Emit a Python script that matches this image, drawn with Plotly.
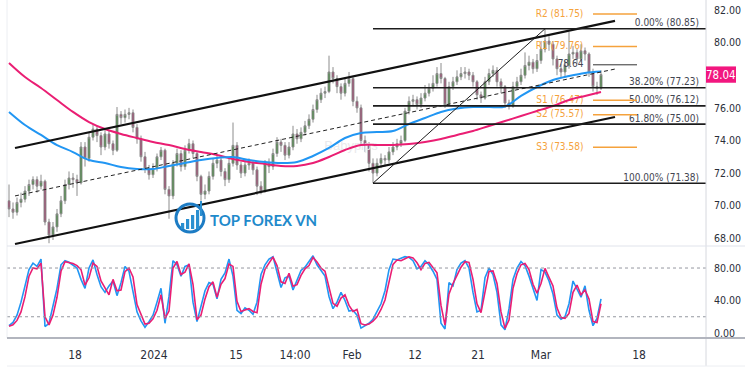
import plotly.graph_objects as go

# ---------------- data ----------------
opens = [70.3, 69.8, 69.6, 70.2, 70.4, 70.9, 71.3, 71.6, 71.2, 71.5,
         69.0, 68.2, 68.7, 69.5, 70.3, 71.3, 71.7, 71.6, 71.4, 73.6,
         72.9, 74.2, 74.7, 74.3, 73.6, 74.4, 73.8, 73.4, 75.6, 75.4,
         75.6, 75.7, 74.8, 74.1, 73.0, 72.3, 71.9, 72.3, 73.0, 73.4,
         71.0, 70.6, 72.6, 73.2, 72.4, 73.4, 73.8, 73.2, 71.8, 70.7,
         70.9, 71.8, 72.6, 72.8, 72.1, 71.6, 72.6, 73.7, 72.5, 72.0,
         72.5, 72.6, 72.2, 71.2, 70.9, 72.6, 72.4, 73.2, 73.9, 73.7,
         73.1, 73.6, 74.4, 74.1, 74.5, 74.9, 75.3, 75.9, 76.5, 76.9,
         77.0, 78.2, 77.8, 77.3, 76.9, 77.5, 77.8, 76.4, 76.0, 74.0,
         73.7, 72.6, 72.0, 72.6, 72.9, 72.8, 73.3, 73.6, 73.8, 74.0,
         75.8, 76.4, 76.5, 76.2, 76.6, 76.9, 77.2, 77.5, 78.1, 77.8,
         76.2, 77.3, 77.6, 77.9, 78.1, 78.2, 78.0, 77.6, 76.8, 76.6,
         77.6, 78.1, 78.3, 77.6, 77.3, 76.3, 76.1, 77.3, 77.6, 78.0,
         78.6, 78.8, 78.4, 78.9, 79.6, 80.1, 79.9, 79.0, 78.4, 78.2,
         78.6, 79.3, 79.4, 79.0, 79.5, 79.3, 78.2, 77.3, 77.2]
highs = [71.3, 70.2, 70.5, 70.8, 71.2, 71.6, 71.8, 71.8, 71.9, 71.6,
         69.2, 69.0, 69.8, 70.6, 71.6, 72.1, 72.0, 71.9, 73.9, 73.9,
         74.5, 75.0, 74.9, 74.5, 74.7, 74.6, 74.0, 76.05, 75.8, 75.9,
         76.0, 75.9, 75.0, 74.3, 73.3, 72.5, 72.6, 73.2, 73.6, 73.5,
         71.2, 72.8, 73.5, 73.4, 73.7, 74.1, 74.0, 73.3, 71.9, 71.3,
         72.1, 72.9, 73.1, 73.0, 72.3, 72.9, 75.1, 73.9, 72.7, 72.8,
         72.9, 72.8, 72.4, 71.5, 72.8, 72.9, 73.5, 74.2, 74.1, 73.9,
         73.9, 74.9, 74.7, 74.8, 75.2, 75.6, 76.2, 76.8, 77.2, 77.3,
         79.2, 78.5, 78.0, 77.5, 77.8, 78.2, 77.9, 76.7, 76.2, 74.3,
         73.9, 72.9, 72.9, 73.2, 73.1, 73.6, 73.9, 74.1, 74.3, 76.0,
         76.7, 76.8, 76.7, 76.9, 77.4, 77.5, 78.0, 78.5, 78.75, 77.9,
         77.6, 77.9, 78.3, 78.5, 78.5, 78.4, 78.2, 77.7, 77.0, 77.9,
         78.4, 78.6, 78.5, 77.8, 77.4, 76.5, 77.6, 77.9, 78.4, 79.4,
         79.2, 79.0, 79.3, 80.1, 80.85, 80.4, 80.1, 79.2, 78.7, 78.9,
         80.65, 79.8, 79.6, 79.9, 79.7, 79.4, 78.4, 77.6, 78.3]
lows = [69.3, 69.2, 69.4, 69.9, 70.2, 70.6, 71.0, 70.8, 71.0, 68.8,
        67.7, 67.9, 68.4, 69.3, 70.1, 71.0, 71.1, 70.6, 71.3, 72.4,
        72.7, 74.0, 73.9, 73.1, 73.4, 73.5, 73.1, 73.3, 75.0, 75.1,
        75.3, 74.5, 73.8, 72.7, 72.0, 71.6, 71.7, 72.1, 72.8, 70.7,
        69.2, 70.4, 72.4, 72.1, 72.2, 73.2, 72.9, 71.5, 70.3, 70.4,
        70.7, 71.6, 72.3, 71.8, 71.2, 71.4, 72.4, 72.2, 71.7, 71.8,
        72.2, 71.9, 70.65, 70.7, 70.8, 72.0, 72.2, 73.0, 73.3, 72.8,
        72.9, 73.4, 73.8, 73.9, 74.3, 74.7, 75.1, 75.7, 76.3, 76.6,
        76.9, 77.5, 76.9, 76.5, 76.7, 77.3, 76.1, 75.7, 73.7, 73.3,
        72.1, 71.38, 71.8, 72.3, 72.4, 72.6, 73.1, 73.4, 73.6, 73.9,
        75.6, 76.1, 75.9, 76.0, 76.4, 76.7, 77.0, 77.3, 77.5, 76.0,
        76.1, 77.1, 77.4, 77.7, 77.8, 77.7, 77.3, 76.5, 76.3, 76.5,
        77.4, 77.9, 77.3, 76.9, 76.0, 75.9, 76.0, 77.1, 77.4, 77.8,
        78.3, 78.1, 78.2, 78.7, 79.4, 79.5, 78.6, 78.0, 77.8, 77.9,
        78.4, 79.0, 78.7, 78.8, 78.9, 77.9, 77.0, 76.8, 77.1]
closes = [69.8, 69.6, 70.2, 70.4, 70.9, 71.3, 71.6, 71.2, 71.5, 69.0,
          68.2, 68.7, 69.5, 70.3, 71.3, 71.7, 71.6, 71.4, 73.6, 72.9,
          74.2, 74.7, 74.3, 73.6, 74.4, 73.8, 73.4, 75.6, 75.4, 75.6,
          75.7, 74.8, 74.1, 73.0, 72.3, 71.9, 72.3, 73.0, 73.4, 71.0,
          70.6, 72.6, 73.2, 72.4, 73.4, 73.8, 73.2, 71.8, 70.7, 70.9,
          71.8, 72.6, 72.8, 72.1, 71.6, 72.6, 73.7, 72.5, 72.0, 72.5,
          72.6, 72.2, 71.2, 70.9, 72.6, 72.4, 73.2, 73.9, 73.7, 73.1,
          73.6, 74.4, 74.1, 74.5, 74.9, 75.3, 75.9, 76.5, 76.9, 77.0,
          78.2, 77.8, 77.3, 76.9, 77.5, 77.8, 76.4, 76.0, 74.0, 73.7,
          72.6, 72.0, 72.6, 72.9, 72.8, 73.3, 73.6, 73.8, 74.0, 75.8,
          76.4, 76.5, 76.2, 76.6, 76.9, 77.2, 77.5, 78.1, 77.8, 76.2,
          77.3, 77.6, 77.9, 78.1, 78.2, 78.0, 77.6, 76.8, 76.6, 77.6,
          78.1, 78.3, 77.6, 77.3, 76.3, 76.1, 77.3, 77.6, 78.0, 78.6,
          78.8, 78.4, 78.9, 79.6, 80.1, 79.9, 79.0, 78.4, 78.2, 78.6,
          79.3, 79.4, 79.0, 79.5, 79.3, 78.2, 77.3, 77.2, 78.04]

# stochastic %K (blue) and %D (red), one value per bar
stoch_k = [9, 13, 22, 38, 58, 78, 86, 82, 91, 8,
           12, 32, 55, 84, 89, 87, 84, 80, 66, 55,
           80, 90, 72, 57, 50, 58, 64, 46, 62, 82,
           76, 52, 26, 15, 7, 14, 22, 38, 55, 12,
           45, 89, 84, 70, 82, 84, 38, 14, 32, 52,
           62, 60, 42, 66, 74, 91, 70, 28, 24, 31,
           28, 23, 38, 72, 84, 91, 94, 74, 56, 68,
           70, 53, 64, 77, 81, 88, 95, 84, 77, 70,
           45, 30, 38, 50, 40, 27, 28, 22, 6, 9,
           12, 17, 26, 36, 52, 78, 91, 90, 92, 94,
           93, 89, 79, 82, 89, 84, 76, 66, 12, 5,
           62, 58, 78, 86, 89, 80, 50, 26, 28, 68,
           80, 72, 50, 10, 4, 30, 66, 80, 88, 83,
           70, 55, 40, 78, 75, 64, 48, 22, 17, 20,
           36, 64, 54, 44, 58, 28, 9, 18, 42]
stoch_d = [8.3, 10, 15.5, 26, 44.7, 70, 80, 79, 86, 20,
           10, 22, 44, 76, 87.8, 86.5, 85.5, 83, 78, 59,
           68, 86, 82, 64, 55, 47, 66, 52, 53, 75.5,
           80, 69, 35, 23, 11, 12, 17.5, 28, 47, 18,
           27, 80, 88, 72, 75, 85, 60, 16.5, 22, 42,
           57, 63, 44, 60, 67, 85, 82, 39, 26.5, 28.3,
           30, 26.5, 25, 60, 78.5, 86, 93.5, 83, 63, 61,
           73.5, 57.5, 59.5, 71, 79, 83, 93, 87.5, 80, 76,
           57, 36.5, 33, 43, 47, 34, 26.5, 29, 11.5, 9.8,
           11, 14.5, 20, 29, 40.6, 62, 84.5, 89.8, 89, 91.5,
           93.7, 92.5, 86.5, 78, 85.7, 87, 80, 74, 34, 9.8,
           48, 61, 71, 81, 87.8, 87, 66, 36, 25, 52.9,
           75.8, 76.5, 61, 26, 5.7, 16, 55, 73, 84, 85.7,
           78, 60, 49, 61, 79.6, 68.5, 58, 31, 19, 18,
           24, 50, 59, 47, 52.9, 42, 14, 13, 36]

# moving averages, one value every 4 bars
ma_blue = [75.75, 74.95, 74.34, 73.72, 73.29, 72.80, 72.62, 72.37, 72.25, 72.25,
           72.44, 72.62, 72.80, 72.93, 72.99, 72.80, 72.68, 72.62, 72.68, 73.05,
           73.54, 74.15, 74.46, 74.52, 74.58, 75.01, 75.38, 75.75, 75.96, 76.05,
           76.05, 76.08, 76.73, 77.28, 77.71, 77.95, 78.14, 78.23]
ma_pink = [78.75, 77.89, 77.22, 76.48, 75.75, 75.13, 74.70, 74.40, 74.15, 73.91,
           73.72, 73.48, 73.29, 73.11, 72.86, 72.68, 72.56, 72.44, 72.44, 72.62,
           72.99, 73.42, 73.72, 73.72, 73.72, 73.78, 73.91, 74.09, 74.34, 74.58,
           74.89, 75.19, 75.50, 75.81, 76.11, 76.48, 76.73, 76.97]

tick_pos = [16.5, 36.25, 56.75, 71.5, 85.75, 101.5, 117.25, 133, 157.5]
tick_labels = ["18", "2024", "15", "14:00", "Feb", "12", "21", "Mar", "18"]

price_ticks = [68, 70, 72, 74, 76, 80, 82]
stoch_ticks = [0, 40, 80]

fib_names = ["0.00%", "38.20%", "50.00%", "61.80%", "100.00%"]
fib_levels = [80.85, 77.23, 76.12, 75.00, 71.38]
fib_low_bar, fib_high_bar = 91, 134

pivot_names = ["R2", "R1", "P", "S1", "S2", "S3"]
pivot_levels = [81.75, 79.76, 78.64, 76.47, 75.57, 73.58]

channel_bars = [1.5, 151.5]
channel_upper = [73.54, 81.33]
channel_mid = [70.60, 78.38]
channel_lower = [67.65, 75.44]

last_price = 78.04

# ---------------- geometry ----------------
W, H = 750, 375
ML, MR, MT, MB = 7, 44, 0, 37
PW, PH = W - ML - MR, H - MT - MB
XMAX = 174.25


def px(x):
    return (x - ML) / PW


def py(y):
    return 1 - (y - MT) / PH


FONT = "Liberation Sans Narrow, DejaVu Sans Condensed, Liberation Sans, Arial, sans-serif"
ORANGE = "#f5a23c"
BLUE = "#2196f3"
PINK = "#ea1e73"
TXT = "#434651"

bars = list(range(len(closes)))
ma_x = list(range(0, len(closes), 4))

fig = go.Figure()

# watermark (behind candles)
fig.add_trace(go.Scatter(x=[85.5], y=[73.6], mode="text", text=["Babypips"],
                         textfont=dict(family="Liberation Sans", size=13, color="#e9e9ec"),
                         hoverinfo="skip"))

# pivot labels (behind candles, as in the reference)
piv_text = [f"{v:.2f}" if n == "P" else f"{n} ({v:.2f})" for n, v in zip(pivot_names, pivot_levels)]
piv_col = [TXT if n == "P" else ORANGE for n in pivot_names]
fig.add_trace(go.Scatter(x=[143.6] * len(pivot_levels), y=pivot_levels, mode="text",
                         text=piv_text, textposition="middle left",
                         textfont=dict(family=FONT, size=10, color=piv_col),
                         hoverinfo="skip"))

fig.add_trace(go.Candlestick(
    x=bars, open=opens, high=highs, low=lows, close=closes,
    increasing=dict(line=dict(color="#8c8c8c", width=1), fillcolor="#3f8a3a"),
    decreasing=dict(line=dict(color="#8c8c8c", width=1), fillcolor="#a23e6c"),
    whiskerwidth=0, hoverinfo="skip"))

# moving averages
fig.add_trace(go.Scatter(x=ma_x, y=ma_pink, mode="lines", line=dict(color=PINK, width=2, shape="spline"),
                         hoverinfo="skip"))
fig.add_trace(go.Scatter(x=ma_x, y=ma_blue, mode="lines", line=dict(color=BLUE, width=2, shape="spline"),
                         hoverinfo="skip"))

# channel
fig.add_trace(go.Scatter(x=channel_bars, y=channel_upper, mode="lines", line=dict(color="#111111", width=2.2),
                         hoverinfo="skip"))
fig.add_trace(go.Scatter(x=channel_bars, y=channel_lower, mode="lines", line=dict(color="#111111", width=2.2),
                         hoverinfo="skip"))
fig.add_trace(go.Scatter(x=channel_bars, y=channel_mid, mode="lines",
                         line=dict(color="#222222", width=1, dash="4px,3px"), hoverinfo="skip"))

# fibonacci retracement
fx, fy = [], []
for lv in fib_levels:
    fx += [fib_low_bar, XMAX, None]
    fy += [lv, lv, None]
fig.add_trace(go.Scatter(x=fx, y=fy, mode="lines", line=dict(color="#1c1c1c", width=1.6), hoverinfo="skip"))
fig.add_trace(go.Scatter(x=[fib_low_bar, fib_high_bar], y=[fib_levels[-1], fib_levels[0]], mode="lines",
                         line=dict(color="#1c1c1c", width=1), hoverinfo="skip"))
fib_text = [f"{n} ({v:.2f})" for n, v in zip(fib_names, fib_levels)]
fig.add_trace(go.Scatter(x=[172.5] * len(fib_levels), y=fib_levels, mode="text", text=fib_text,
                         textposition="top left", textfont=dict(family=FONT, size=10, color=TXT),
                         hoverinfo="skip"))

# pivot lines
ox, oy, gx, gy = [], [], [], []
for n, lv in zip(pivot_names, pivot_levels):
    if n == "P":
        gx += [146, 157, None]
        gy += [lv, lv, None]
    else:
        ox += [146, 157, None]
        oy += [lv, lv, None]
fig.add_trace(go.Scatter(x=ox, y=oy, mode="lines", line=dict(color=ORANGE, width=1.5), hoverinfo="skip"))
fig.add_trace(go.Scatter(x=gx, y=gy, mode="lines", line=dict(color="#333333", width=1), hoverinfo="skip"))

# stochastic
fig.add_trace(go.Scatter(x=bars, y=stoch_k, mode="lines", yaxis="y2",
                         line=dict(color=BLUE, width=1.6), hoverinfo="skip"))
fig.add_trace(go.Scatter(x=bars, y=stoch_d, mode="lines", yaxis="y2",
                         line=dict(color=PINK, width=1.6), hoverinfo="skip"))

split = py(246)
shapes = [
    # stochastic bands
    dict(type="line", xref="paper", yref="y2", x0=0, x1=1, y0=80, y1=80,
         line=dict(color="#9598a1", width=1, dash="dot")),
    dict(type="line", xref="paper", yref="y2", x0=0, x1=1, y0=20, y1=20,
         line=dict(color="#9598a1", width=1, dash="dot")),
    # frame
    dict(type="line", xref="paper", yref="paper", x0=1, x1=1, y0=1, y1=py(366),
         line=dict(color="#d6d8de", width=1)),
    dict(type="line", xref="paper", yref="paper", x0=0, x1=0, y0=1, y1=0,
         line=dict(color="#eceef2", width=1)),
    dict(type="line", xref="paper", yref="paper", x0=0, x1=px(745), y0=split, y1=split,
         line=dict(color="#e0e3eb", width=1)),
    dict(type="line", xref="paper", yref="paper", x0=0, x1=px(745), y0=0, y1=0,
         line=dict(color="#b2b5be", width=2)),
    dict(type="line", xref="paper", yref="paper", x0=0, x1=px(745), y0=py(366), y1=py(366),
         line=dict(color="#eceef2", width=1)),
    # last price tag
    dict(type="rect", xref="paper", yref="y", x0=1.0, x1=px(736), y0=last_price - 0.5, y1=last_price + 0.5,
         fillcolor="#f2167f", line=dict(width=0)),
    # logo icon
    dict(type="circle", xref="paper", yref="paper", x0=px(176), x1=px(204), y0=py(232), y1=py(204),
         line=dict(color="#1d7cc4", width=3)),
]
for bx, top in [(181, 223), (186, 219), (191, 215), (196, 210)]:
    shapes.append(dict(type="rect", xref="paper", yref="paper", x0=px(bx), x1=px(bx + 3.2),
                       y0=py(229), y1=py(top), fillcolor="#2a8fd0", line=dict(width=0)))
shapes.append(dict(type="line", xref="paper", yref="paper", x0=px(201), x1=px(201), y0=py(216), y1=py(201),
                   line=dict(color="#2a8fd0", width=2)))

annotations = [
    dict(xref="paper", yref="y", x=px(721), y=last_price, text=f"{last_price:.2f}", showarrow=False,
         font=dict(family=FONT, size=11.5, color="white"), xanchor="center", yanchor="middle"),
    dict(xref="paper", yref="paper", x=px(208), y=py(220), text="<b>TOP FOREX VN</b>", showarrow=False,
         font=dict(family="Lato, Liberation Sans", size=15, color="#1f8acb"), xanchor="left", yanchor="middle"),
]

axis_font = dict(family=FONT, size=10.5, color="#2a2e39")
fig.update_layout(
    width=W, height=H, margin=dict(l=ML, r=MR, t=MT, b=MB),
    paper_bgcolor="white", plot_bgcolor="white", showlegend=False,
    xaxis=dict(range=[-0.5, XMAX], anchor="y2", tickmode="array", tickvals=tick_pos, ticktext=tick_labels,
               showgrid=False, zeroline=False, showline=False, rangeslider=dict(visible=False),
               ticks="outside", ticklen=6, tickcolor="rgba(0,0,0,0)",
               tickfont=dict(family=FONT, size=12, color="#2a2e39"), fixedrange=True),
    yaxis=dict(domain=[split, 1], range=[67.53, 82.613], side="right", anchor="x",
               tickmode="array", tickvals=price_ticks, ticktext=[f"{v:.2f}" for v in price_ticks],
               showgrid=False, zeroline=False, showline=False, ticks="outside", ticklen=5,
               tickcolor="rgba(0,0,0,0)", tickfont=axis_font),
    yaxis2=dict(domain=[0, split], range=[-6.15, 107.1], side="right", anchor="x",
                tickmode="array", tickvals=stoch_ticks, ticktext=[f"{v:.2f}" for v in stoch_ticks],
                showgrid=False, zeroline=False, showline=False, ticks="outside", ticklen=5,
                tickcolor="rgba(0,0,0,0)", tickfont=axis_font),
    shapes=shapes, annotations=annotations,
)

fig.write_html("out.html", config={"displayModeBar": False},
               post_script="document.body.style.margin='0';")
